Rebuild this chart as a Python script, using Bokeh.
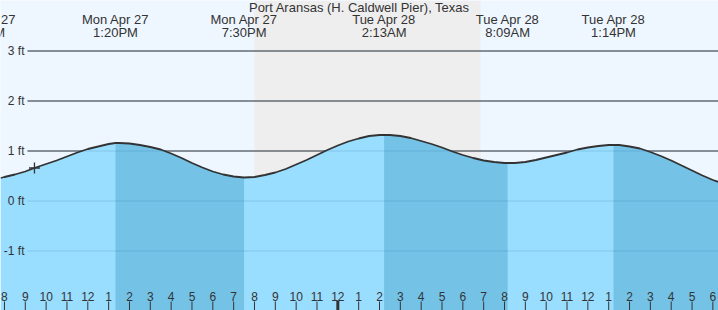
from bokeh.plotting import figure
from bokeh.models import Range1d
from bokeh.embed import file_html
from bokeh.resources import INLINE
from bokeh.core.properties import value

# ---- data (hours counted from Mon Apr 27 00:00) ----
title = "Port Aransas (H. Caldwell Pier), Texas"
tide_hours = [7.81, 8.0, 8.5, 9.0, 9.5, 10.0, 10.5, 11.0, 11.5, 12.0, 12.5, 13.0, 13.33,
              13.5, 14.0, 14.5, 15.0, 15.5, 16.0, 16.5, 17.0, 17.5, 18.0, 18.5, 19.0, 19.5,
              20.0, 20.5, 21.0, 21.5, 22.0, 22.5, 23.0, 23.5, 24.0, 24.5, 25.0, 25.5, 26.0, 26.22,
              26.5, 27.0, 27.5, 28.0, 28.5, 29.0, 29.5, 30.0, 30.5, 31.0, 31.5, 32.0, 32.15,
              32.5, 33.0, 33.5, 34.0, 34.5, 35.0, 35.5, 36.0, 36.5, 37.0, 37.23,
              37.5, 38.0, 38.5, 39.0, 39.5, 40.0, 40.5, 41.0, 41.5, 42.0, 42.27]
tide_ft = [0.46, 0.48, 0.53, 0.59, 0.67, 0.74, 0.81, 0.89, 0.97, 1.04, 1.09, 1.14, 1.16,
           1.16, 1.15, 1.12, 1.08, 1.03, 0.95, 0.86, 0.76, 0.67, 0.59, 0.53, 0.49, 0.47,
           0.48, 0.52, 0.57, 0.64, 0.73, 0.82, 0.92, 1.02, 1.11, 1.19, 1.25, 1.30, 1.32, 1.32,
           1.32, 1.30, 1.26, 1.20, 1.14, 1.07, 0.99, 0.92, 0.86, 0.81, 0.78, 0.76, 0.76,
           0.76, 0.78, 0.82, 0.87, 0.92, 0.97, 1.03, 1.07, 1.10, 1.12, 1.12,
           1.12, 1.09, 1.05, 0.98, 0.90, 0.81, 0.71, 0.61, 0.51, 0.42, 0.38]
event_hours = [6.95, 13.33, 19.5, 26.22, 32.15, 37.23]
event_days = ["Mon Apr 27", "Mon Apr 27", "Mon Apr 27", "Tue Apr 28", "Tue Apr 28", "Tue Apr 28"]
event_times = ["6:57AM", "1:20PM", "7:30PM", "2:13AM", "8:09AM", "1:14PM"]
falling_spans = [(13.33, 19.5), (26.22, 32.15), (37.23, 42.27)]  # high -> low
night_span = (20.0, 30.85)
now_hour, now_ft = 9.44, 0.66
y_ticks = [3, 2, 1, 0, -1]
y_tick_labels = ["3 ft", "2 ft", "1 ft", "0 ft", "-1 ft"]
hour_ticks = list(range(8, 43))
hour_labels = [str((h % 12) or 12) for h in hour_ticks]

# ---- layout ----
W, H = 718, 310
X0, X1 = 7.81, 42.27
Y0, Y1 = -2.19, 4.01
pxh = W / (X1 - X0)
pxf = H / (Y1 - Y0)

def py(p):  # screen y pixel -> data value
    return Y1 - p / pxf

def px(p):  # screen x pixel -> hour
    return X0 + p / pxh

TXT = "#333333"
FONT = value("Liberation Sans")

p = figure(width=W, height=H, output_backend="svg", toolbar_location=None,
           x_range=Range1d(X0, X1), y_range=Range1d(Y0, Y1), min_border=0)
p.axis.visible = False
p.grid.visible = False
p.outline_line_color = None
p.background_fill_color = "#EEF6FF"
p.border_fill_color = "#EEF6FF"

# night shading
p.quad(left=[night_span[0]], right=[night_span[1]], bottom=[Y0], top=[Y1],
       fill_color="#EEEEEE", line_color=None)

# grid lines (full, dark)
gx0 = px(27)
for yv in y_ticks:
    p.segment(x0=[gx0], x1=[X1], y0=[yv], y1=[yv], line_color="#333333", line_width=1)

# water fill
p.varea(x=tide_hours, y1=[Y0] * len(tide_hours), y2=tide_ft, fill_color="#99DDFF")
for a, b in falling_spans:
    xs = [h for h in tide_hours if a <= h <= b]
    ys = [v for h, v in zip(tide_hours, tide_ft) if a <= h <= b]
    p.varea(x=xs, y1=[Y0] * len(xs), y2=ys, fill_color="#74C3E7")

# faint grid lines over water
for yv in y_ticks:
    p.segment(x0=[gx0], x1=[X1], y0=[yv], y1=[yv], line_color="#1a5f86", line_alpha=0.18, line_width=1)

# tide curve
p.line(tide_hours, tide_ft, line_color="#333333", line_width=1.8)

# current position marker
p.scatter([now_hour], [now_ft], marker="cross", size=11, line_color="#333333", line_width=1.3)

# y labels
p.text(x=[X0] * len(y_ticks), y=y_ticks, text=y_tick_labels, x_offset=24,
       text_align="right", text_baseline="middle", text_font=FONT,
       text_font_size="12px", text_color=TXT)

# hour ticks & labels
p.segment(x0=hour_ticks, x1=hour_ticks, y0=[py(301)] * len(hour_ticks), y1=[Y0] * len(hour_ticks),
          line_color="#333333", line_width=1)
p.segment(x0=[24], x1=[24], y0=[py(300)], y1=[Y0], line_color="#333333", line_width=3)
p.text(x=hour_ticks, y=[py(296)] * len(hour_ticks), text=hour_labels,
       text_align="center", text_baseline="middle", text_font=FONT,
       text_font_size="12px", text_color=TXT)

# event labels
p.text(x=event_hours, y=[py(19)] * len(event_hours), text=event_days,
       text_align="center", text_baseline="middle", text_font=FONT,
       text_font_size="13px", text_color=TXT)
p.text(x=event_hours, y=[py(32)] * len(event_hours), text=event_times,
       text_align="center", text_baseline="middle", text_font=FONT,
       text_font_size="13px", text_color=TXT)

# title
p.text(x=[(X0 + X1) / 2], y=[py(7)], text=[title], text_align="center",
       text_baseline="middle", text_font=FONT, text_font_size="13px", text_color=TXT)

open("out.html", "w").write(file_html(p, INLINE))
